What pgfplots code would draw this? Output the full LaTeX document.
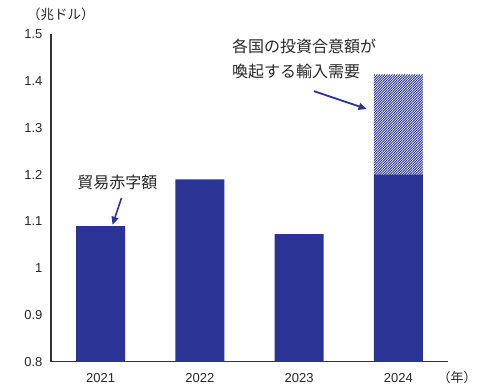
\documentclass[border=0pt]{standalone}
\usepackage{fontspec}
\setmainfont{Liberation Sans}
\newfontfamily\jp{Noto Sans CJK JP}
\usepackage{pgfplots}
\pgfplotsset{compat=1.18}
\usetikzlibrary{patterns.meta,arrows.meta}
\pgfdeclarepattern{name=denselines, type=uncolored,
  bottom left={\pgfpoint{-.1pt}{-.1pt}}, top right={\pgfpoint{2.6pt}{2.6pt}},
  tile size={\pgfpoint{2.5pt}{2.5pt}},
  code={\pgfsetlinewidth{0.95pt}\pgfpathmoveto{\pgfpoint{-.1pt}{-.1pt}}\pgfpathlineto{\pgfpoint{2.6pt}{2.6pt}}\pgfusepath{stroke}}}
\definecolor{barblue}{RGB}{43,52,148}
\begin{document}
\begin{tikzpicture}
\begin{axis}[
  scale only axis, width=397pt, height=328pt,
  ybar stacked, bar width=49pt,
  xmin=-0.5, xmax=3.5, ymin=0.8, ymax=1.5,
  axis x line*=bottom, axis y line*=left,
  axis line style={line width=1pt, black!80},
  major tick length=0pt,
  xtick={0,1,2,3}, xticklabels={2021,2022,2023,2024},
  ytick={0.8,0.9,1,1.1,1.2,1.3,1.4,1.5},
  yticklabels={0.8,0.9,1,1.1,1.2,1.3,1.4,1.5},
  tick label style={font=\fontsize{13}{15}\selectfont, black!85},
  xticklabel style={yshift=-8pt},
  yticklabel style={xshift=-5pt},
  clip=false,
]
\addplot[fill=barblue, draw=none] coordinates {(0,1.09) (1,1.19) (2,1.073) (3,1.20)};
\addplot[pattern={denselines}, pattern color=barblue, draw=none] coordinates {(0,0) (1,0) (2,0) (3,0.213)};
\node[font=\jp\fontsize{13.5}{15}\selectfont, anchor=center, text=black!85] at (axis cs:-0.4,1.542) {（兆ドル）};
\node[font=\jp\fontsize{13}{15}\selectfont, anchor=west, text=black!85] at (axis cs:3.36,0.767) {（年）};
\node[font=\jp\fontsize{16}{25}\selectfont, anchor=west, align=left, text=black!85] at (axis cs:1.29,1.446) {各国の投資合意額が\\喚起する輸入需要};
\node[font=\jp\fontsize{16}{18}\selectfont, text=black!85] at (axis cs:0.17,1.184) {貿易赤字額};
\draw[barblue, line width=1.8pt, -{Triangle[length=8pt,width=7pt]}] (axis cs:2.15,1.378) -- (axis cs:2.68,1.340);
\draw[barblue, line width=1.6pt, -{Triangle[length=8pt,width=7pt]}] (axis cs:0.21,1.150) -- (axis cs:0.12,1.093);
\end{axis}
\path[use as bounding box] ([xshift=-51pt,yshift=-30pt]current axis.south west) rectangle ([xshift=46pt,yshift=34pt]current axis.north east);
\end{tikzpicture}
\end{document}
